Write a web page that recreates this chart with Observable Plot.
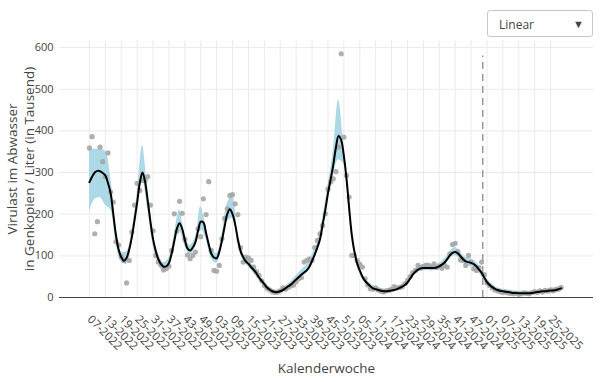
<!DOCTYPE html>
<html>
<head>
<meta charset="utf-8">
<script src="https://cdn.jsdelivr.net/npm/d3@7"></script>
<script src="https://cdn.jsdelivr.net/npm/@observablehq/plot@0.6"></script>
<style>
  html, body { margin: 0; padding: 0; background: white; }
  #wrap { position: relative; width: 604px; height: 382px; font-family: "Open Sans", sans-serif; }
  #wrap svg { position: absolute; left: 0; top: 0; }
  #dropdown { position: absolute; left: 487px; top: 10px; width: 106px; height: 27px; box-sizing: border-box;
    border: 1px solid #bec8d9; border-radius: 3px; background: white; font-size: 12px; color: #444; }
  #dropdown .lab { position: absolute; left: 11px; top: 5px; }
  #dropdown .arr { position: absolute; right: 8px; top: 5px; font-size: 11px; color: #444; }
  .ytitle { position: absolute; top: 169px; white-space: nowrap; font-size: 13.5px; line-height: 18px; color: #444;
    transform: translate(-50%, -50%) rotate(-90deg); }
</style>
</head>
<body>
<div id="wrap"></div>
<script>
// X axis: week index counted from 07-2022
const tickWeeks = [0, 6, 12, 18, 24, 30, 36, 42, 48, 54, 60, 66, 72, 78, 84, 90, 96, 102, 108, 114, 120, 126, 132, 138, 144, 150, 156, 162, 168, 174];
const tickLabels = ["07-2022", "13-2022", "19-2022", "25-2022", "31-2022", "37-2022", "43-2022", "49-2022",
  "03-2023", "09-2023", "15-2023", "21-2023", "27-2023", "33-2023", "39-2023", "45-2023", "51-2023",
  "05-2024", "11-2024", "17-2024", "23-2024", "29-2024", "35-2024", "41-2024", "47-2024",
  "01-2025", "07-2025", "13-2025", "19-2025", "25-2025"];
const yTicks = [0, 100, 200, 300, 400, 500, 600];
const xTitle = "Kalenderwoche";
const yTitle1 = "Virulast im Abwasser";
const yTitle2 = "in Genkopien / Liter (in Tausend)";
const menuLabel = "Linear";

// smoothed line, one value per week starting at week index 0
const lineValues = [277, 290, 300, 304, 303, 299, 293, 275, 250, 200, 150, 115, 97, 88, 95, 115, 145, 185, 228, 275,
  300, 278, 232, 183, 140, 112, 92, 80, 74, 75, 83, 105, 135, 165, 178, 165, 138, 118, 113, 120,
  133, 160, 182, 180, 155, 128, 105, 96, 94, 110, 137, 170, 200, 212, 200, 175, 140, 112, 97, 87,
  81, 73, 66, 58, 48, 40, 32, 24, 19, 15, 13, 13, 15, 18, 22, 27, 31, 37, 43, 49,
  55, 60, 65, 74, 88, 103, 120, 140, 175, 210, 250, 283, 318, 360, 388, 378, 340, 285, 215, 150,
  110, 82, 65, 50, 40, 33, 27, 22, 20, 18, 16, 15, 15, 16, 17, 18, 20, 23, 26, 30,
  36, 45, 55, 62, 67, 70, 71, 71, 71, 71, 71, 72, 75, 79, 84, 92, 101, 107, 109, 106,
  99, 92, 87, 85, 83, 80, 75, 67, 59, 48, 37, 30, 25, 21, 18, 16, 15, 14, 13, 12,
  11, 11, 10, 10, 10, 10, 10, 11, 12, 13, 14, 15, 15, 16, 17, 17, 18, 20, 22];

// confidence band
const bandWeeks = [0, 2, 4, 6, 8, 10, 12, 14, 16, 18, 20, 22, 24, 26, 28, 30, 32, 34, 36, 38, 40, 42, 44, 46, 48, 50,
  52, 54, 56, 58, 60, 62, 64, 66, 68, 70, 72, 74, 76, 78, 80, 82, 84, 86, 88, 90, 92, 94, 96, 98, 100,
  102, 104, 106, 108, 110, 112, 114, 116, 118, 120, 122, 124, 126, 128, 130, 132, 134, 136, 138, 140,
  142, 144, 146, 148, 150, 152, 154, 156, 158, 160, 162, 164, 166, 168, 170, 172, 174, 176, 178];
const bandLower = [205, 235, 240, 222, 210, 130, 85, 80, 130, 210, 282, 212, 125, 80, 62, 72, 122, 160, 125, 102, 122, 165, 140, 93, 82, 125,
  183, 190, 128, 88, 73, 58, 40, 26, 13, 8, 10, 16, 26, 38, 48, 60, 82, 108, 160, 232, 295, 330, 320, 200, 100,
  57, 34, 21, 14, 10, 10, 12, 15, 20, 30, 48, 60, 64, 64, 64, 68, 76, 93, 100, 90,
  78, 74, 66, 50, 30, 19, 13, 10, 8, 6, 5, 5, 5, 7, 9, 10, 11, 12, 15];
const bandUpper = [355, 356, 355, 352, 290, 170, 110, 110, 160, 250, 365, 255, 155, 105, 84, 95, 150, 210, 150, 125, 145, 218, 170, 117, 105, 150,
  225, 245, 152, 107, 90, 75, 56, 38, 25, 18, 20, 28, 38, 52, 66, 78, 102, 132, 190, 268, 350, 475, 360, 230, 120,
  73, 46, 33, 26, 22, 20, 22, 25, 32, 42, 62, 74, 78, 78, 78, 82, 92, 110, 120, 108,
  96, 93, 84, 68, 44, 31, 23, 20, 18, 16, 15, 15, 15, 17, 19, 20, 23, 24, 29];

// measured values, one per week starting at week index 0
const pointValues = [359, 386, 153, 182, 361, 326, 290, 347, 253, 229, 134, 126, 98, 89, 35, 89, 157, 222, 274, 257,
  281, 281, 290, 222, 160, 101, 85, 78, 66, 69, 75, 113, 201, 159, 231, 202, 140, 102, 93, 101,
  109, 165, 146, 237, 199, 278, 113, 65, 63, 77, 141, 190, 213, 245, 247, 225, 199, 120, 85, 97,
  95, 89, 73, 62, 53, 40, 29, 22, 18, 14, 12, 13, 16, 23, 20, 24, 28, 30, 38, 45,
  48, 85, 89, 93, 89, 120, 137, 153, 173, 201, 260, 277, 285, 302, 361, 585, 385, 293, 241, 101,
  101, 89, 80, 73, 45, 30, 21, 20, 23, 18, 15, 13, 16, 17, 20, 26, 23, 24, 26, 33,
  41, 50, 60, 65, 77, 71, 75, 78, 77, 73, 81, 72, 75, 70, 77, 73, 105, 127, 130, 110,
  90, 89, 77, 101, 85, 69, 65, 72, 85, 55, 35, 29, 23, 18, 16, 14, 12, 13, 11, 10,
  9, 10, 8, 9, 11, 10, 9, 12, 14, 12, 16, 13, 17, 15, 18, 16, 19, 20, 24];

const dashWeek = 148.4;
const dashTop = 580;

const lineData = lineValues.map((v, i) => ({week: i, v}));
const bandData = bandWeeks.map((w, i) => ({week: w, lo: bandLower[i], hi: bandUpper[i]}));
const pointData = pointValues.map((v, i) => ({week: i, v}));
const labelOf = d => tickLabels[tickWeeks.indexOf(d)];

const chart = Plot.plot({
  width: 604,
  height: 382,
  marginLeft: 59,
  marginRight: 11,
  marginTop: 40,
  marginBottom: 85,
  style: {fontFamily: "'Open Sans', sans-serif", fontSize: "12px", color: "#444", background: "transparent"},
  x: {domain: [-11.3, 190.2]},
  y: {domain: [0, 617]},
  marks: [
    Plot.gridX(tickWeeks, {stroke: "#ebebeb", strokeOpacity: 1}),
    Plot.gridY(yTicks, {stroke: "#ebebeb", strokeOpacity: 1}),
    Plot.areaY(bandData, {x: "week", y1: "lo", y2: "hi", fill: "#add8e6", curve: "catmull-rom"}),
    Plot.ruleX([dashWeek], {y1: 0, y2: dashTop, stroke: "#9a9a9a", strokeWidth: 1.5, strokeDasharray: "7,5"}),
    Plot.dot(pointData, {x: "week", y: "v", r: 2.6, fill: "#a6a6a6", fillOpacity: 0.9, stroke: "none"}),
    Plot.line(lineData, {x: "week", y: "v", stroke: "black", strokeWidth: 2, curve: "catmull-rom"}),
    Plot.ruleY([0], {stroke: "#444", strokeWidth: 1}),
    Plot.axisX(tickWeeks, {tickSize: 0, tickPadding: 20, tickRotate: 45, tickFormat: labelOf, fontSize: 11.5, label: null}),
    Plot.axisY(yTicks, {tickSize: 0, tickPadding: 6, fontSize: 11, label: null}),
    Plot.text([xTitle], {frameAnchor: "bottom", dy: 71, fontSize: 13.5, fill: "#444", lineAnchor: "middle"})
  ]
});

const wrap = document.getElementById("wrap");
wrap.appendChild(chart);
[[yTitle1, 12], [yTitle2, 29]].forEach(([t, x]) => {
  const d = document.createElement("div");
  d.className = "ytitle";
  d.style.left = x + "px";
  d.textContent = t;
  wrap.appendChild(d);
});
const dd = document.createElement("div");
dd.id = "dropdown";
dd.innerHTML = '<span class="lab"></span><span class="arr">▼</span>';
dd.querySelector(".lab").textContent = menuLabel;
wrap.appendChild(dd);
</script>
</body>
</html>
